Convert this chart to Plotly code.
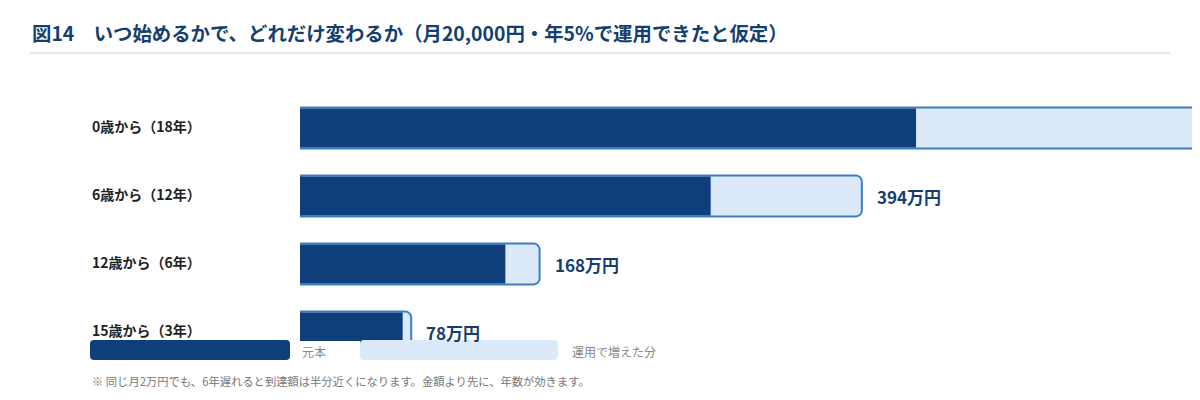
import plotly.graph_objects as go

# values in 万円 (monthly 20,000 yen at 5% a year)
labels = ['0歳から（18年）', '6歳から（12年）', '12歳から（6年）', '15歳から（3年）']
principal = [432, 288, 144, 72]
total = [698, 394, 168, 78]
value_text = ['698万円', '394万円', '168万円', '78万円']

legend_names = ['元本', '運用で増えた分']

DARK = '#0f3f7b'
LIGHT = '#dbe9fb'
EDGE = '#3a80c0'
FONT = 'Noto Sans CJK JP'

OFF = 8  # page body margin
W, H = 1200 - OFF, 380
ML, MR, MT = 300 - OFF, 0, 94 - OFF
MB = H - MT - 272
PX_PER_MAN = 1.426  # pixel per 万円
x_max = (W - ML - MR) / PX_PER_MAN

rows = list(range(len(labels)))


def px_x(p):
    return (p - OFF - ML) / (W - ML - MR)


def px_y(p):
    return 1 - (p - OFF - MT) / (H - MT - MB)


def pill(x0, x1, y0, y1, r=4):
    return (f'M {px_x(x0 + r)} {px_y(y0)} L {px_x(x1 - r)} {px_y(y0)} Q {px_x(x1)} {px_y(y0)} {px_x(x1)} {px_y(y0 + r)} '
            f'L {px_x(x1)} {px_y(y1 - r)} Q {px_x(x1)} {px_y(y1)} {px_x(x1 - r)} {px_y(y1)} '
            f'L {px_x(x0 + r)} {px_y(y1)} Q {px_x(x0)} {px_y(y1)} {px_x(x0)} {px_y(y1 - r)} '
            f'L {px_x(x0)} {px_y(y0 + r)} Q {px_x(x0)} {px_y(y0)} {px_x(x0 + r)} {px_y(y0)} Z')


fig = go.Figure()

# total (outer, light with border)
fig.add_trace(go.Bar(
    y=rows, x=total, orientation='h', width=0.6, cliponaxis=False,
    marker=dict(color=LIGHT, line=dict(color=EDGE, width=2), cornerradius=6),
    hoverinfo='skip', showlegend=False,
))
# principal (inner, dark)
fig.add_trace(go.Bar(
    y=rows, x=principal, orientation='h', width=0.57,
    marker=dict(color=DARK, line=dict(width=0), cornerradius=5),
    hoverinfo='skip', showlegend=False,
))

annotations = []
for i, lab in enumerate(labels):
    annotations.append(dict(
        x=px_x(90), xref='paper', y=i, yref='y', text=f'<b>{lab}</b>', showarrow=False,
        xanchor='left', yshift=2, font=dict(family=FONT, size=14, color='#222222'),
    ))
    annotations.append(dict(
        x=total[i], xref='x', y=i, yref='y', text=f'<b>{value_text[i]}</b>', showarrow=False,
        xanchor='left', xshift=13, font=dict(family=FONT, size=17, color='#163d6e'),
    ))

# title
annotations.append(dict(
    x=px_x(30), xref='paper', y=px_y(33), yref='paper', showarrow=False,
    text='<b>図14　いつ始めるかで、どれだけ変わるか（月20,000円・年5%で運用できたと仮定）</b>',
    xanchor='left', yanchor='middle', font=dict(family=FONT, size=19.4, color='#143f70'),
))
# footnote
annotations.append(dict(
    x=px_x(90), xref='paper', y=px_y(381), yref='paper', showarrow=False,
    text='※ 同じ月2万円でも、6年遅れると到達額は半分近くになります。金額より先に、年数が効きます。',
    xanchor='left', yanchor='middle', font=dict(family=FONT, size=11.3, color='#777777'),
))
# legend labels
annotations.append(dict(
    x=px_x(300), xref='paper', y=px_y(351), yref='paper', showarrow=False, text=legend_names[0],
    xanchor='left', yanchor='middle', font=dict(family=FONT, size=12, color='#888888'),
))
annotations.append(dict(
    x=px_x(570), xref='paper', y=px_y(351), yref='paper', showarrow=False, text=legend_names[1],
    xanchor='left', yanchor='middle', font=dict(family=FONT, size=12, color='#888888'),
))

shapes = [
    # rule under title
    dict(type='line', xref='paper', yref='paper', x0=px_x(30), x1=px_x(1170),
         y0=px_y(53), y1=px_y(53), line=dict(color='#dfe8f1', width=2), layer='above'),
    # legend band covering the last bar
    dict(type='rect', xref='paper', yref='paper', x0=px_x(290), x1=px_x(360),
         y0=px_y(341), y1=px_y(362), fillcolor='white', line=dict(width=0), layer='above'),
    dict(type='path', xref='paper', yref='paper', layer='above', fillcolor=DARK, line=dict(width=0),
         path=pill(90, 290, 340, 360)),
    dict(type='path', xref='paper', yref='paper', layer='above', fillcolor=LIGHT, line=dict(width=0),
         path=pill(360, 558, 340, 360)),
]

fig.update_layout(
    width=W, height=H, barmode='overlay',
    margin=dict(l=ML, r=MR, t=MT, b=MB),
    paper_bgcolor='white', plot_bgcolor='white',
    xaxis=dict(range=[0, x_max], visible=False, fixedrange=True),
    yaxis=dict(range=[len(labels) - 0.5, -0.5], visible=False, fixedrange=True),
    annotations=annotations, shapes=shapes,
    font=dict(family=FONT),
)

fig.write_html('out.html', config={'displayModeBar': False})
